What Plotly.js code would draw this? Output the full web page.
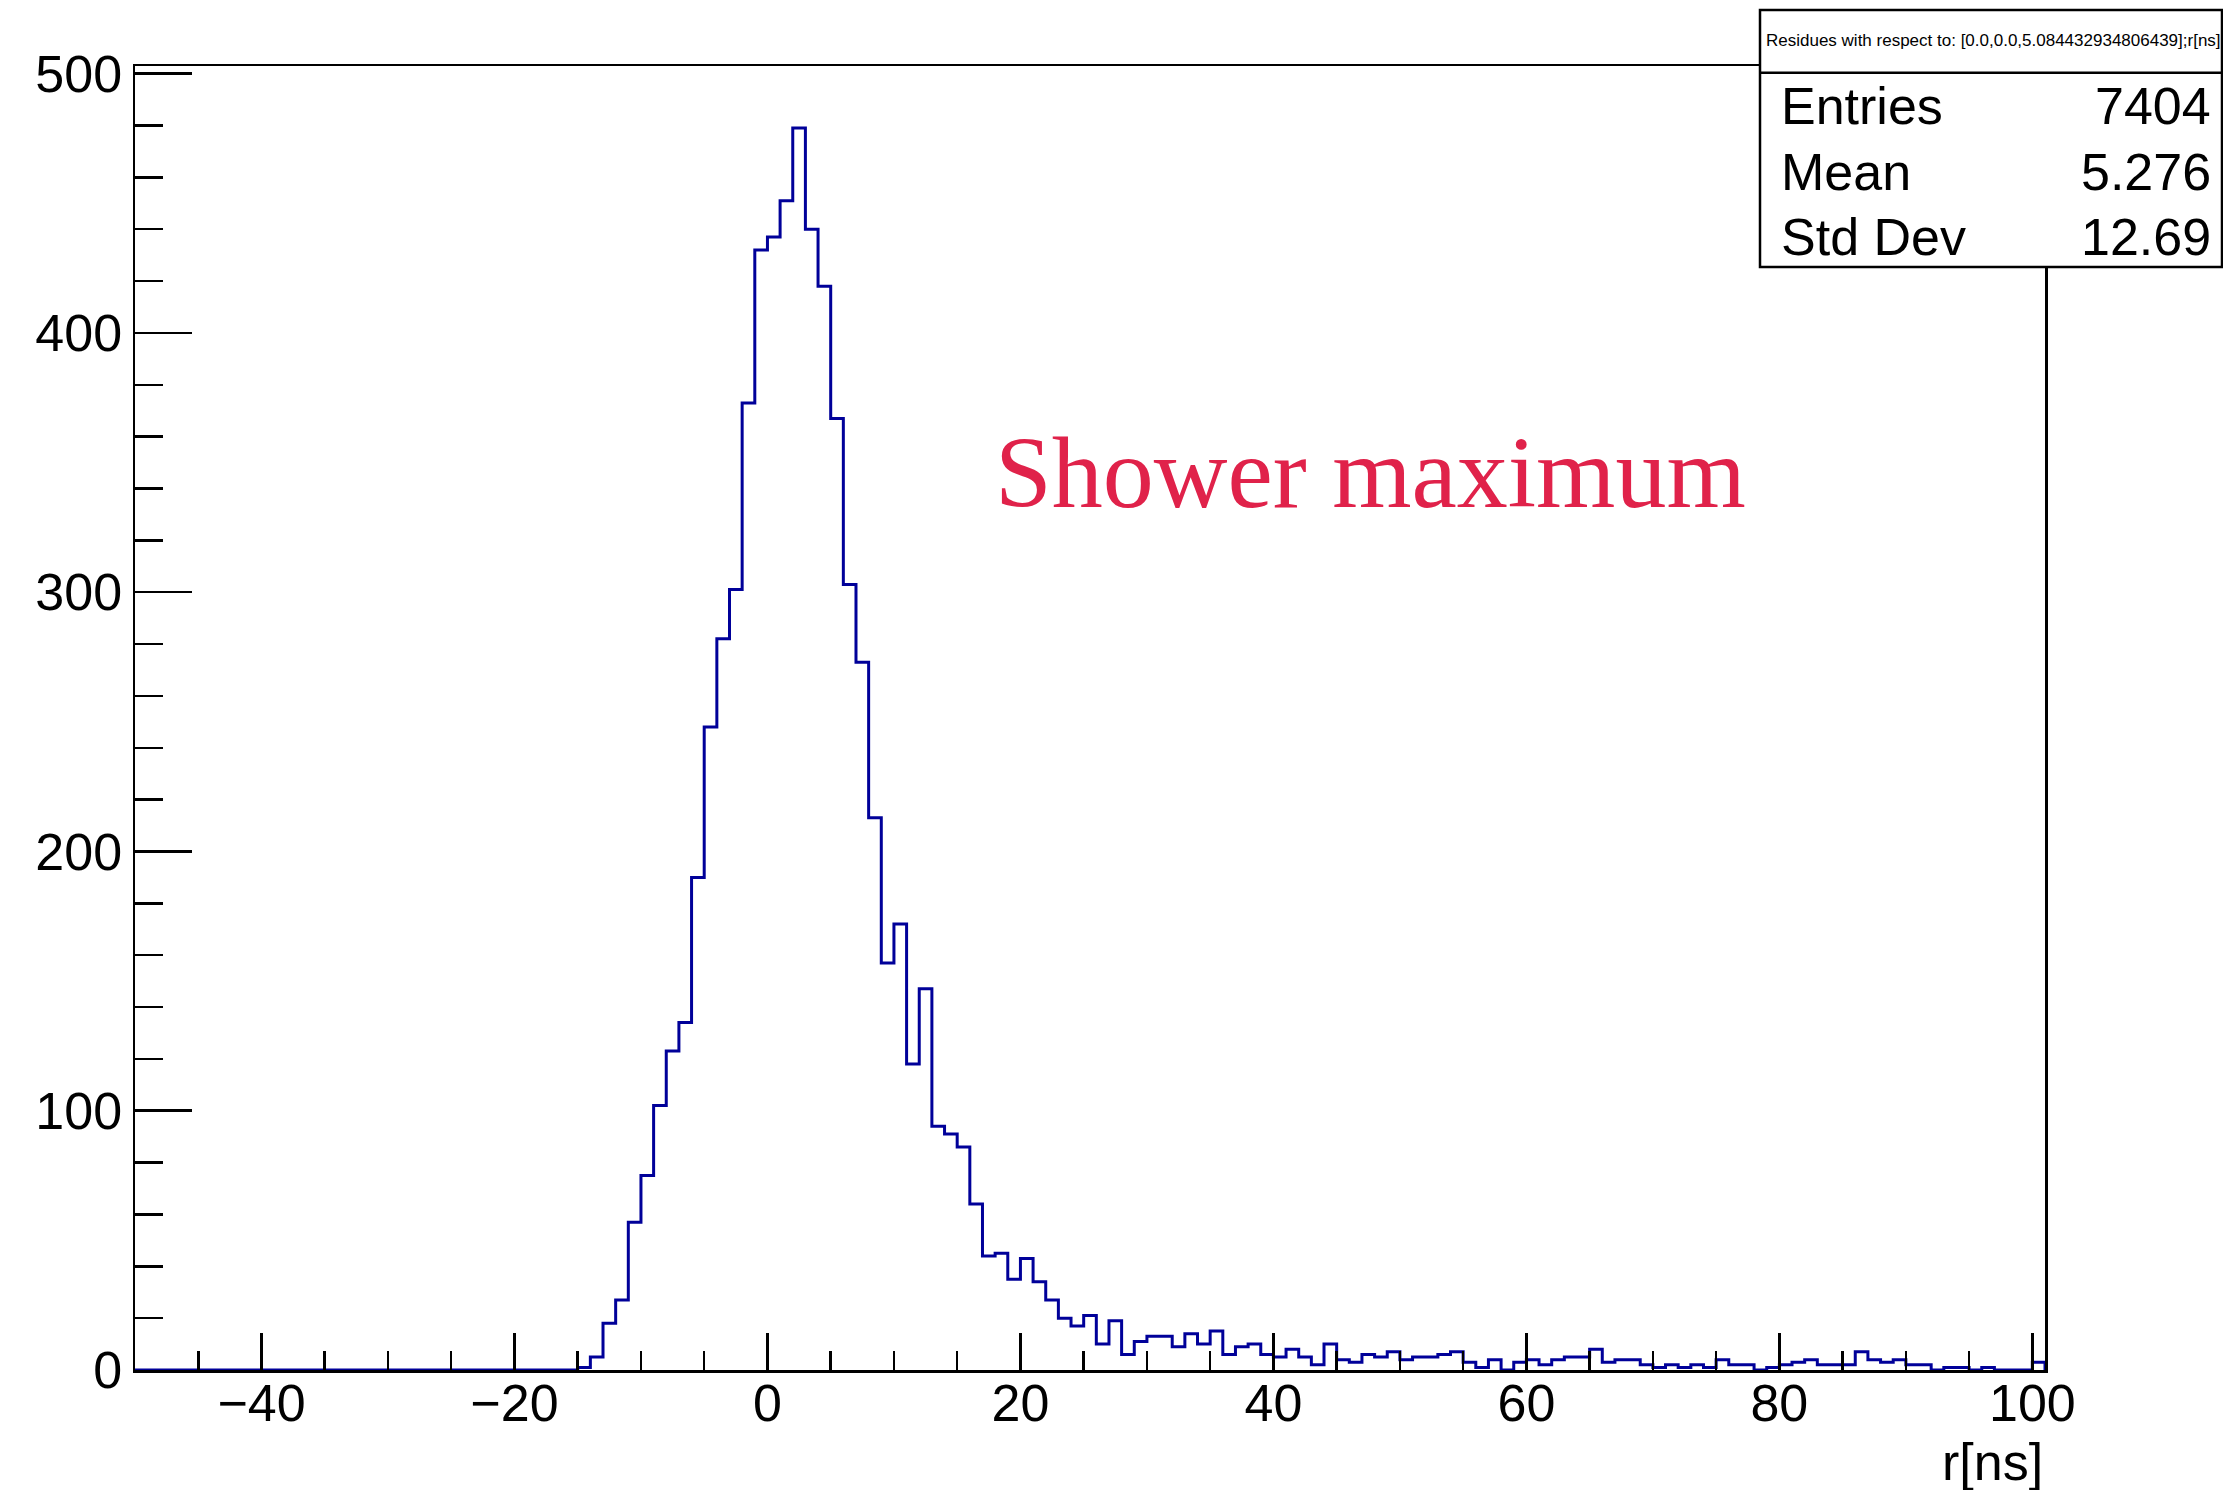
<!DOCTYPE html>
<html>
<head>
<meta charset="utf-8">
<script src="https://cdn.plot.ly/plotly-3.0.1.min.js"></script>
<style>
  html, body { margin: 0; padding: 0; background: #ffffff; }
  #chart { width: 2223px; height: 1490px; }
</style>
</head>
<body>
<div id="chart"></div>
<script>
// ---- data ----
const binStart = -50;      // lower edge of first bin [ns]
const binWidth = 1;        // bin width [ns]
// counts per bin, bins from -50 to 101 ns
const counts = [
  0,0,0,0,0,0,0,0,0,0,            // -50 .. -41
  0,0,0,0,0,0,0,0,0,0,            // -40 .. -31
  0,0,0,0,0,0,0,0,0,0,            // -30 .. -21
  0,0,0,0,0,                      // -20 .. -16
  1,5,18,27,57,75,102,123,134,190,// -15 .. -6
  248,282,301,373,432,            // -5 .. -1
  437,451,479,440,418,367,303,273,213,157, // 0 .. 9
  172,118,147,94,91,86,64,44,45,35,        // 10 .. 19
  43,34,27,20,17,21,10,19,6,11,            // 20 .. 29
  13,13,9,14,10,15,6,9,10,6,               // 30 .. 39
  5,8,5,2,10,4,3,6,5,7,                    // 40 .. 49
  4,5,5,6,7,3,1,4,0,3,                     // 50 .. 59
  4,2,4,5,5,8,3,4,4,2,                     // 60 .. 69
  1,2,1,2,1,4,2,2,0,1,                     // 70 .. 79
  2,3,4,2,2,2,7,4,3,4,                     // 80 .. 89
  2,2,0,1,1,0,1,0,0,0,                     // 90 .. 99
  3                                        // 100
];
const xTickVals = [-40, -20, 0, 20, 40, 60, 80, 100];
const xTickText = ["\u221240", "\u221220", "0", "20", "40", "60", "80", "100"];
const yTickVals = [0, 100, 200, 300, 400, 500];
const yTickText = ["0", "100", "200", "300", "400", "500"];
const statNames = ["Entries", "Mean", "Std Dev"];
const statValues = ["7404", "5.276", "12.69"];
const statTitle = "Residues with respect to: [0.0,0.0,5.084432934806439];r[ns]";
const xTitle = "r[ns]";
const label = "Shower maximum";

// ---- build step outline from bin edges ----
const xs = [], ys = [];
for (let i = 0; i < counts.length; i++) {
  xs.push(binStart + i * binWidth);
  ys.push(counts[i]);
}
const xEnd = binStart + counts.length * binWidth;
xs.push(xEnd); ys.push(0);

const yMax = Math.max(...counts) * 1.05;

// ---- pixel helpers for layout items ----
const L = 135, R = 2045, T = 66, B = 1370;
const px = v => (v - L) / (R - L);
const py = v => (B - v) / (B - T);

const font = "Liberation Sans, Arial, Helvetica, sans-serif";

const trace = {
  type: "scatter",
  mode: "lines",
  x: xs,
  y: ys,
  line: { shape: "hv", color: "#000099", width: 3 },
  hoverinfo: "skip"
};

const annotations = [
  { text: label, x: px(993), y: py(472), xref: "paper", yref: "paper",
    xanchor: "left", yanchor: "middle", showarrow: false,
    font: { family: "Liberation Serif, Times New Roman, serif", size: 102, color: "#e0224a" } },
  { text: xTitle, x: px(2045), y: py(1462), xref: "paper", yref: "paper",
    xanchor: "right", yanchor: "middle", showarrow: false,
    font: { family: font, size: 52, color: "#000000" } },
  { text: statTitle, x: px(1993), y: py(41), xref: "paper", yref: "paper",
    xanchor: "center", yanchor: "middle", showarrow: false,
    font: { family: font, size: 17, color: "#000000" } }
];
const rowY = [106, 172, 237];
for (let i = 0; i < statNames.length; i++) {
  annotations.push({ text: statNames[i], x: px(1779), y: py(rowY[i]), xref: "paper", yref: "paper",
    xanchor: "left", yanchor: "middle", showarrow: false,
    font: { family: font, size: 52, color: "#000000" } });
  annotations.push({ text: statValues[i], x: px(2213), y: py(rowY[i]), xref: "paper", yref: "paper",
    xanchor: "right", yanchor: "middle", showarrow: false,
    font: { family: font, size: 52, color: "#000000" } });
}

const shapes = [
  { type: "rect", xref: "paper", yref: "paper", layer: "above",
    x0: px(1760), x1: px(2222), y0: py(267), y1: py(10),
    fillcolor: "#ffffff", line: { color: "#000000", width: 2.5 } },
  { type: "line", xref: "paper", yref: "paper", layer: "above",
    x0: px(1760), x1: px(2222), y0: py(72.7), y1: py(72.7),
    line: { color: "#000000", width: 2.5 } }
];

const axisCommon = {
  showgrid: false, zeroline: false,
  showline: true, mirror: true, linecolor: "#000000", linewidth: 2.5,
  ticks: "inside", tickcolor: "#000000", tickwidth: 2.5,
  tickmode: "array",
  tickfont: { family: font, size: 52, color: "#000000" },
  fixedrange: true
};

const layout = {
  width: 2223, height: 1490,
  margin: { l: L, r: 2223 - R, t: T, b: 1490 - B, pad: 0 },
  paper_bgcolor: "#ffffff", plot_bgcolor: "#ffffff",
  showlegend: false,
  font: { family: font, color: "#000000" },
  xaxis: Object.assign({}, axisCommon, {
    range: [binStart, xEnd],
    tickvals: xTickVals, ticktext: xTickText, ticklen: 37,
    minor: { tick0: 0, dtick: 5, ticks: "inside", ticklen: 19, tickwidth: 2.5, tickcolor: "#000000", showgrid: false },
    ticklabelstandoff: -14
  }),
  yaxis: Object.assign({}, axisCommon, {
    range: [0, yMax],
    tickvals: yTickVals, ticktext: yTickText, ticklen: 57,
    minor: { tick0: 0, dtick: 20, ticks: "inside", ticklen: 28, tickwidth: 2.5, tickcolor: "#000000", showgrid: false },
    ticklabelstandoff: 0
  }),
  annotations: annotations,
  shapes: shapes
};

Plotly.newPlot("chart", [trace], layout, { displayModeBar: false, staticPlot: true });
</script>
</body>
</html>
